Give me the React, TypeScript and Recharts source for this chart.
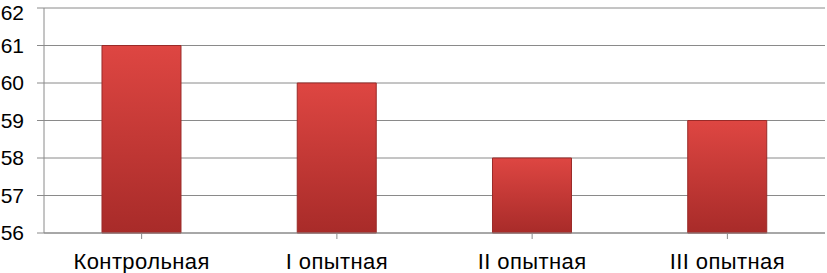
import { BarChart, Bar, XAxis, YAxis, CartesianGrid } from "recharts";

const groups = ["Контрольная", "I опытная", "II опытная", "III опытная"];
const values = [61, 60, 58, 59];
const yTicks = [56, 57, 58, 59, 60, 61, 62];

const data = groups.map((name, i) => ({ name, value: values[i] }));

const font = "Liberation Sans, Arial, sans-serif";

export default function App() {
  return (
    <div style={{ width: 827, height: 273, background: "#fff" }}>
      <style>{"body{margin:0}"}</style>
      <BarChart
        width={827}
        height={273}
        data={data}
        margin={{ top: 8, right: 2, bottom: 0, left: 0 }}
        barCategoryGap="29.7%"
      >
        <defs>
          <linearGradient id="redBar" x1="0" y1="0" x2="0" y2="1">
            <stop offset="0%" stopColor="#de4642" />
            <stop offset="100%" stopColor="#a82b29" />
          </linearGradient>
        </defs>
        <CartesianGrid vertical={false} stroke="#8a8a8a" />
        <XAxis
          dataKey="name"
          height={40}
          stroke="#8a8a8a"
          tickSize={6}
          tickMargin={14}
          interval={0}
          tick={{ fill: "#000", fontSize: 22, fontFamily: font, letterSpacing: 0.4 }}
        />
        <YAxis
          width={44}
          domain={[56, 62]}
          ticks={yTicks}
          stroke="#8a8a8a"
          tickSize={7}
          tickMargin={13}
          tick={{ fill: "#000", fontSize: 21, fontFamily: font }}
        />
        <Bar
          dataKey="value"
          fill="url(#redBar)"
          stroke="#9a2a28"
          strokeWidth={1}
          isAnimationActive={false}
        />
      </BarChart>
    </div>
  );
}
